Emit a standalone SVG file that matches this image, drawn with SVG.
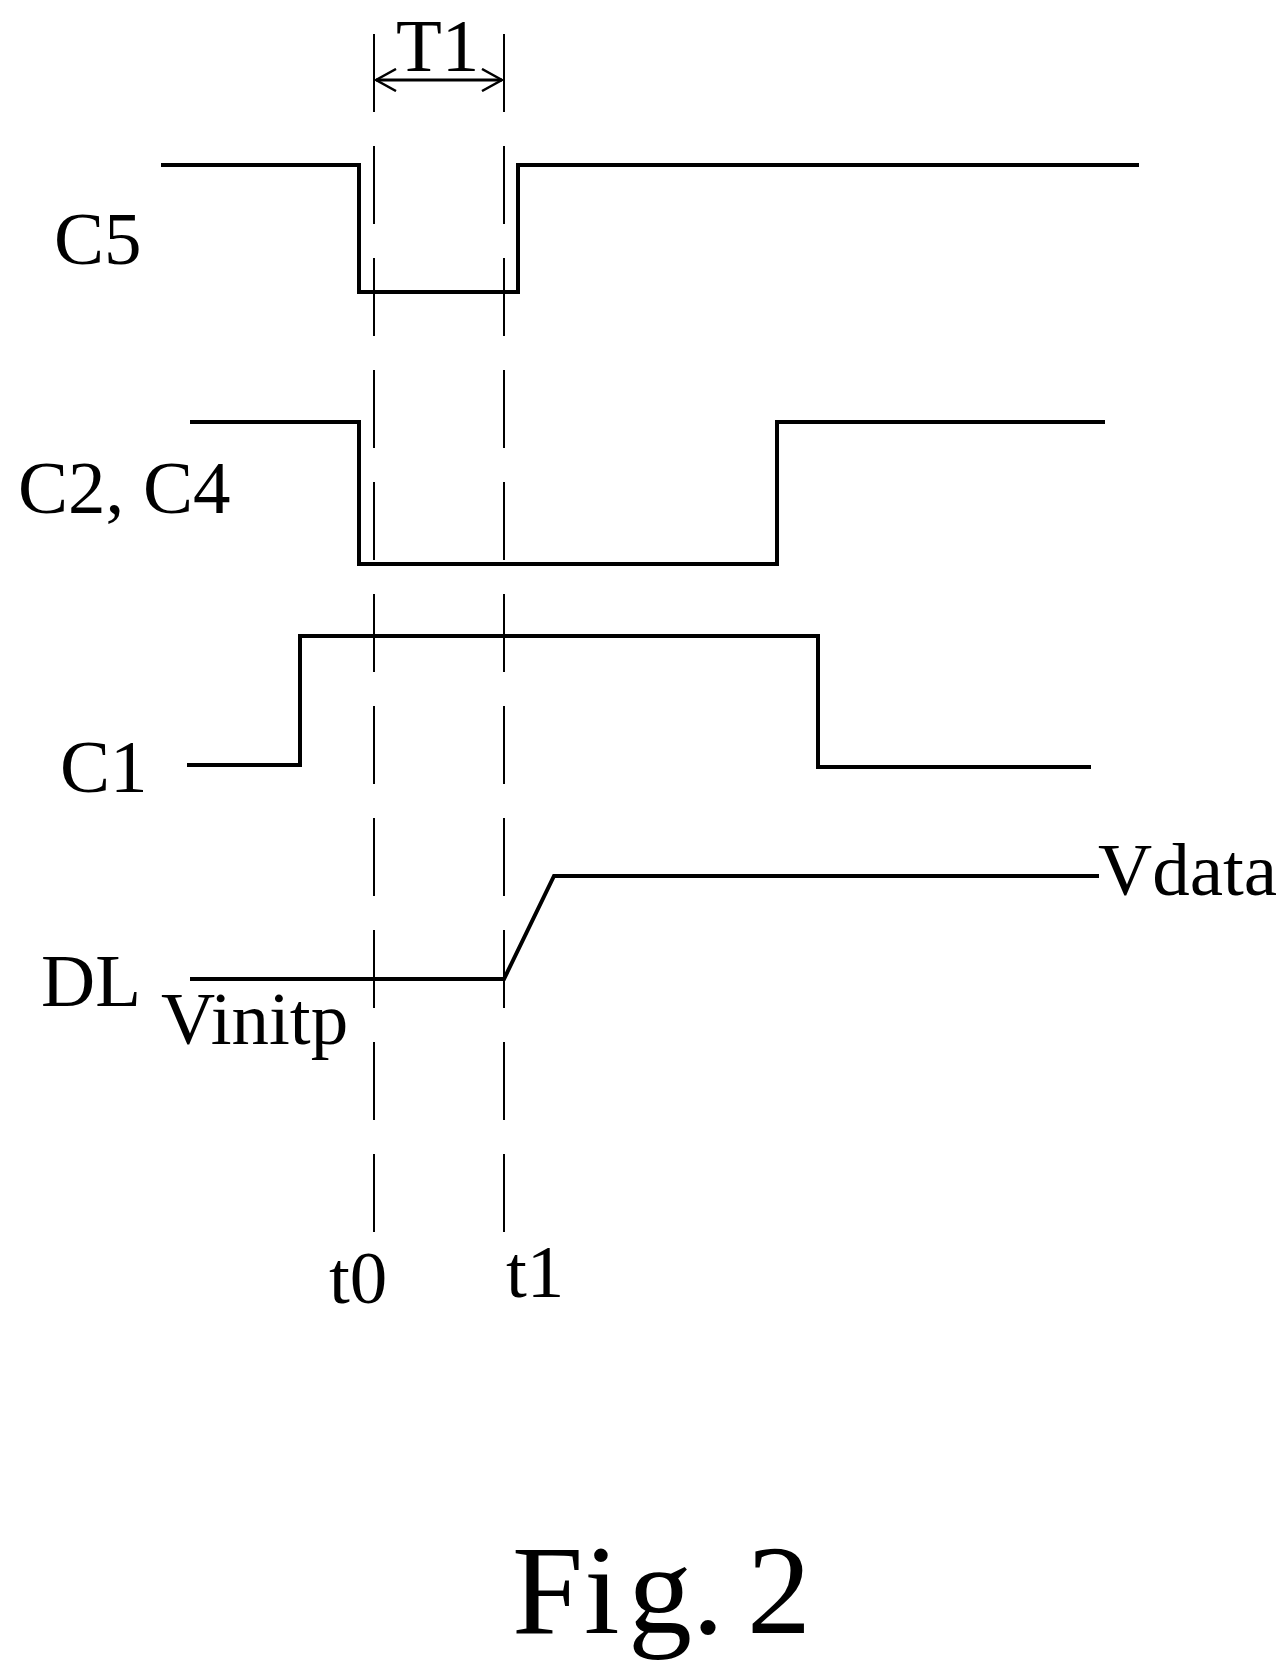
<svg xmlns="http://www.w3.org/2000/svg" width="1281" height="1672" viewBox="0 0 1281 1672">
<style>
.w{fill:none;stroke:#000;stroke-width:4}
.d{fill:none;stroke:#000;stroke-width:2;stroke-dasharray:78,34}
text{font-family:"Liberation Serif",serif;font-size:75px;fill:#000}
</style>
<defs><marker id="a" markerWidth="24" markerHeight="24" refX="22" refY="12" orient="auto-start-reverse" markerUnits="userSpaceOnUse"><path d="M2,1 L22,12 L2,23" fill="none" stroke="#000" stroke-width="2.5"/></marker></defs>
<rect width="1281" height="1672" fill="#fff"/>
<g id="connectors">
<path class="d" d="M374,34V1239M504,34V1239"/>
<path d="M376,80H502" fill="none" stroke="#000" stroke-width="3" marker-start="url(#a)" marker-end="url(#a)"/>
</g>
<g id="C5w"><path class="w" d="M161,165H359V292H518V165H1139"/></g>
<g id="C24w"><path class="w" d="M190,422H359V564H777V422H1105"/></g>
<g id="C1w"><path class="w" d="M187,765H300V636H818V767H1091"/></g>
<g id="DLw"><path class="w" d="M190,979H504L554,876H1099"/></g>
<g id="labels">
<text x="396" y="71">T1</text>
<text x="54" y="264">C5</text>
<text x="18" y="513">C2, C4</text>
<text x="60" y="792">C1</text>
<text x="41" y="1006">DL</text>
<text x="161" y="1044">Vinitp</text>
<text x="1098" y="895">Vdata</text>
<text x="329" y="1303">t0</text>
<text x="506" y="1297">t1</text>
<text x="512 584 628 692 747" y="1633" style="font-size:128px">Fig.2</text>
</g>
</svg>
